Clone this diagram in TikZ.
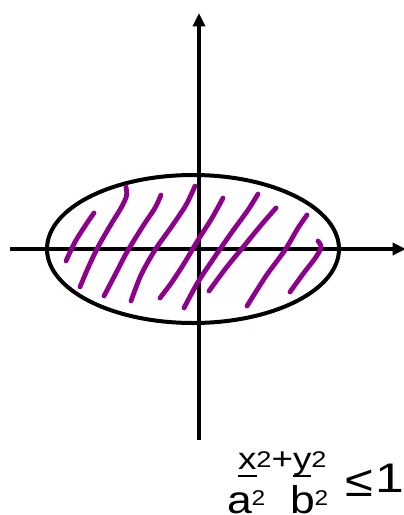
\documentclass[tikz,border=0pt]{standalone}
\usepackage{fontspec}
\setmainfont{Liberation Sans}
\usetikzlibrary{arrows.meta}
\definecolor{hatch}{RGB}{140,0,140}
\tikzset{
  axis/.style={line width=3pt,-{Triangle[length=10pt,width=9pt]}},
  ell/.style={line width=3pt},
  stroke/.style={hatch,line width=3.6pt,line cap=round,line join=round},
  lbl/.style={inner sep=0pt,outer sep=0pt,anchor=base west}
}
\newcommand\supx[2]{\raisebox{#1}{\fontsize{#2}{#2}\selectfont 2}}
\newcommand\ulin[1]{\makebox[0pt][l]{\rule[-6.2pt]{#1}{1.4pt}}}
\begin{document}
\begin{tikzpicture}[x=0.75pt,y=-0.75pt]
\useasboundingbox (0,0) rectangle (404,515);
% axes
\coordinate (vb) at (199,440);
\coordinate (vt) at (199,13);
\coordinate (hl) at (10,249);
\coordinate (hr) at (406,249);
\draw[axis] (vb) -- (vt);
\draw[axis] (hl) -- (hr);
% ellipse
\draw[ell] (193,249) ellipse [x radius=146, y radius=74];
% hatch strokes
\draw[stroke] plot[smooth] coordinates {(94,213) (87,223) (75,242) (66,261)};
\draw[stroke] plot[smooth] coordinates {(126,187) (126.5,196) (121,208) (110,226) (98,247) (88,268) (80,287)};
\draw[stroke] plot[smooth] coordinates {(161,195) (155,208) (143,226) (127,252) (115,275) (104,296)};
\draw[stroke] plot[smooth] coordinates {(195,186) (186,205) (172,226) (155,250) (141,275) (131,301)};
\draw[stroke] plot[smooth] coordinates {(223,198) (212,218) (198,240) (185,262) (172,282) (160,298)};
\draw[stroke] plot[smooth] coordinates {(258,194) (248,210) (232,232) (216,255) (198,282) (184,308)};
\draw[stroke] plot[smooth] coordinates {(276,208) (262,224) (244,246) (226,268) (209,291)};
\draw[stroke] plot[smooth] coordinates {(307,215) (298,228) (285,250) (266,276) (247,306)};
\draw[stroke] plot[smooth] coordinates {(318,241) (321,247) (316,257) (303,274) (290,292)};
% label
\node[lbl] (top) at (238,469) {\scalebox{1.2}[1]{\fontsize{23}{23}\selectfont\ulin{12pt}x\supx{1pt}{17}+\ulin{11.5pt}y\supx{1pt}{17}}};
\node[lbl] (ba) at (227,513) {\scalebox{1.15}[1]{\fontsize{29}{29}\selectfont a\supx{6pt}{16}}};
\node[lbl] (bb) at (290,513) {\scalebox{1.15}[1]{\fontsize{29}{29}\selectfont b\supx{6pt}{16}}};
\node[lbl] (le) at (345,496) {\scalebox{1.15}[1]{\fontsize{33}{33}\selectfont ≤}};
\node[lbl] (one) at (375,492) {\scalebox{1.25}[1]{\fontsize{31}{31}\selectfont 1}};
\end{tikzpicture}
\end{document}
